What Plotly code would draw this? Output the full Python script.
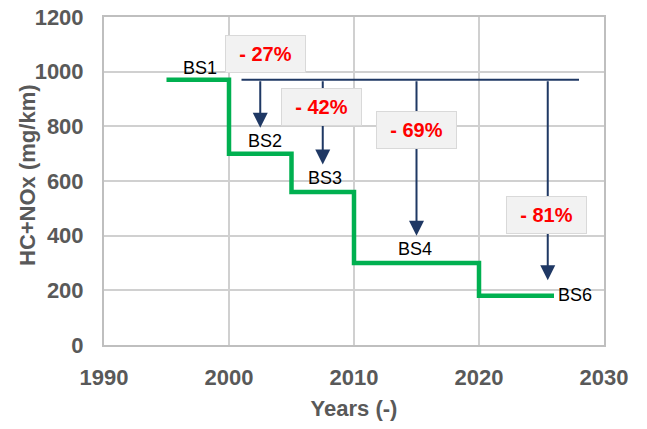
import plotly.graph_objects as go

# ---- data ----
step_years = [1995, 2000, 2005, 2010, 2020, 2026]
step_limits = [970, 700, 560, 300, 180, 180]

stage_names = ["BS1", "BS2", "BS3", "BS4", "BS6"]
stage_label_x = [1997.7, 2002.9, 2007.7, 2014.9, 2027.7]
stage_label_y = [1013, 746, 611, 351, 183]

ref_level = 970
ref_line_x = [2001, 2028]
arrow_x = [2002.5, 2007.5, 2015, 2025.5]
arrow_tip_y = [795, 660, 400, 237]

pct_labels = ["- 27%", "- 42%", "- 69%", "- 81%"]
pct_x = [2002.9, 2007.4, 2015.0, 2025.4]
pct_y = [1065, 869, 787, 474]

x_ticks = [1990, 2000, 2010, 2020, 2030]
y_ticks = [0, 200, 400, 600, 800, 1000, 1200]

GREEN = "#00B050"
NAVY = "#1F3864"
GRID = "#D0D0D0"
TICK = "#595959"
FONT = "Liberation Sans, Arial, sans-serif"

W, H = 647, 429
L, T = 104, 17
PW, PH = 500, 328
R, B = W - L - PW, H - T - PH

fig = go.Figure()
fig.add_trace(go.Scatter(
    x=step_years, y=step_limits, mode="lines", line_shape="hv",
    line=dict(color=GREEN, width=4.5), hoverinfo="skip", showlegend=False,
))

shapes = [dict(type="line", xref="x", yref="y",
               x0=ref_line_x[0], x1=ref_line_x[1], y0=ref_level, y1=ref_level,
               line=dict(color=NAVY, width=2))]

annotations = []
for xa, yt in zip(arrow_x, arrow_tip_y):
    annotations.append(dict(
        x=xa, y=yt, ax=xa, ay=ref_level, xref="x", yref="y", axref="x", ayref="y",
        text="", showarrow=True, arrowhead=2, arrowsize=1.5, arrowwidth=2,
        arrowcolor=NAVY, standoff=0,
    ))
for name, xs, ys in zip(stage_names, stage_label_x, stage_label_y):
    annotations.append(dict(
        x=xs, y=ys, xref="x", yref="y", text=name, showarrow=False,
        font=dict(family=FONT, size=18, color="black"),
    ))
for t, xs, ys in zip(pct_labels, pct_x, pct_y):
    annotations.append(dict(
        x=xs, y=ys, xref="x", yref="y", text="<b>" + t + "</b>", showarrow=False,
        font=dict(family=FONT, size=20, color="#FF0000"),
        bgcolor="#F2F2F2", bordercolor="#D9D9D9", borderwidth=1, borderpad=0,
        width=79, height=36,
    ))
# y-axis title as rotated annotation (px: centre x=27, y=175)
annotations.append(dict(
    x=(27 - L) / PW, y=(T + PH - 175) / PH, xref="paper", yref="paper",
    xanchor="center", yanchor="middle",
    text="<b>HC+NOx (mg/km)</b>", textangle=-90, showarrow=False,
    font=dict(family=FONT, size=22, color=TICK),
))

fig.update_layout(
    width=W, height=H,
    margin=dict(l=L, r=R, t=T, b=B, autoexpand=False),
    paper_bgcolor="white", plot_bgcolor="white",
    shapes=shapes, annotations=annotations,
    showlegend=False,
    font=dict(family=FONT),
)
fig.update_xaxes(
    range=[1990, 2030], tickvals=x_ticks, ticktext=["<b>%d</b>" % v for v in x_ticks],
    showgrid=True, gridcolor=GRID, gridwidth=2, automargin=False,
    showline=True, linecolor="#BFBFBF", linewidth=2, mirror=True,
    zeroline=False, ticks="outside", ticklen=12, tickcolor="rgba(0,0,0,0)",
    tickfont=dict(family=FONT, size=22, color=TICK), ticklabeloverflow="allow",
    title=dict(text="<b>Years (-)</b>", font=dict(family=FONT, size=22, color=TICK), standoff=11),
)
fig.update_yaxes(
    range=[0, 1200], tickvals=y_ticks, ticktext=["<b>%d</b>" % v for v in y_ticks],
    showgrid=True, gridcolor=GRID, gridwidth=2, automargin=False,
    showline=True, linecolor="#BFBFBF", linewidth=2, mirror=True,
    zeroline=False, ticks="outside", ticklen=14, tickcolor="rgba(0,0,0,0)",
    tickfont=dict(family=FONT, size=22, color=TICK), ticklabeloverflow="allow",
)

fig.write_html("out.html", config={"displayModeBar": False},
               post_script="document.body.style.margin='0';")
